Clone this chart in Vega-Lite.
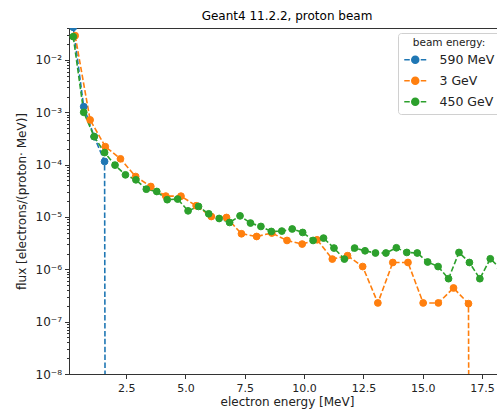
{
  "$schema": "https://vega.github.io/schema/vega-lite/v6.json",
  "width": 436,
  "height": 346,
  "autosize": "none",
  "padding": {"left": 69, "top": 28, "right": -8, "bottom": 38},
  "title": {"text": "Geant4 11.2.2, proton beam", "fontSize": 12, "fontWeight": "normal", "color": "black", "offset": 5},
  "data": {
    "values": [
      {"beam": "590 MeV", "E": 0.27, "flux": 0.042},
      {"beam": "590 MeV", "E": 0.71, "flux": 0.00128},
      {"beam": "590 MeV", "E": 1.15, "flux": 0.000343},
      {"beam": "590 MeV", "E": 1.59, "flux": 0.000115},
      {"beam": "590 MeV", "E": 2.03, "flux": 1e-100},

      {"beam": "3 GeV", "E": 0.35, "flux": 0.0291},
      {"beam": "3 GeV", "E": 0.98, "flux": 0.000716},
      {"beam": "3 GeV", "E": 1.62, "flux": 0.000221},
      {"beam": "3 GeV", "E": 2.26, "flux": 0.000129},
      {"beam": "3 GeV", "E": 2.90, "flux": 5.93e-5},
      {"beam": "3 GeV", "E": 3.54, "flux": 3.82e-5},
      {"beam": "3 GeV", "E": 4.17, "flux": 2.51e-5},
      {"beam": "3 GeV", "E": 4.81, "flux": 2.50e-5},
      {"beam": "3 GeV", "E": 5.45, "flux": 1.64e-5},
      {"beam": "3 GeV", "E": 6.09, "flux": 1.02e-5},
      {"beam": "3 GeV", "E": 6.73, "flux": 9.78e-6},
      {"beam": "3 GeV", "E": 7.36, "flux": 4.78e-6},
      {"beam": "3 GeV", "E": 8.00, "flux": 4.24e-6},
      {"beam": "3 GeV", "E": 8.64, "flux": 4.93e-6},
      {"beam": "3 GeV", "E": 9.28, "flux": 3.56e-6},
      {"beam": "3 GeV", "E": 9.92, "flux": 3.04e-6},
      {"beam": "3 GeV", "E": 10.55, "flux": 3.67e-6},
      {"beam": "3 GeV", "E": 11.19, "flux": 1.57e-6},
      {"beam": "3 GeV", "E": 11.83, "flux": 1.82e-6},
      {"beam": "3 GeV", "E": 12.47, "flux": 1.13e-6},
      {"beam": "3 GeV", "E": 13.11, "flux": 2.28e-7},
      {"beam": "3 GeV", "E": 13.74, "flux": 1.35e-6},
      {"beam": "3 GeV", "E": 14.38, "flux": 1.35e-6},
      {"beam": "3 GeV", "E": 15.02, "flux": 2.28e-7},
      {"beam": "3 GeV", "E": 15.66, "flux": 2.28e-7},
      {"beam": "3 GeV", "E": 16.30, "flux": 4.40e-7},
      {"beam": "3 GeV", "E": 16.93, "flux": 2.21e-7},
      {"beam": "3 GeV", "E": 17.57, "flux": 1e-100},

      {"beam": "450 GeV", "E": 0.27, "flux": 0.0279},
      {"beam": "450 GeV", "E": 0.71, "flux": 0.00100},
      {"beam": "450 GeV", "E": 1.15, "flux": 0.000343},
      {"beam": "450 GeV", "E": 1.59, "flux": 0.000170},
      {"beam": "450 GeV", "E": 2.03, "flux": 9.8e-5},
      {"beam": "450 GeV", "E": 2.47, "flux": 6.38e-5},
      {"beam": "450 GeV", "E": 2.91, "flux": 5.13e-5},
      {"beam": "450 GeV", "E": 3.35, "flux": 3.40e-5},
      {"beam": "450 GeV", "E": 3.79, "flux": 3.07e-5},
      {"beam": "450 GeV", "E": 4.23, "flux": 2.14e-5},
      {"beam": "450 GeV", "E": 4.67, "flux": 2.20e-5},
      {"beam": "450 GeV", "E": 5.11, "flux": 1.31e-5},
      {"beam": "450 GeV", "E": 5.55, "flux": 1.59e-5},
      {"beam": "450 GeV", "E": 5.98, "flux": 1.15e-5},
      {"beam": "450 GeV", "E": 6.42, "flux": 9.36e-6},
      {"beam": "450 GeV", "E": 6.86, "flux": 7.85e-6},
      {"beam": "450 GeV", "E": 7.30, "flux": 1.05e-5},
      {"beam": "450 GeV", "E": 7.74, "flux": 7.66e-6},
      {"beam": "450 GeV", "E": 8.18, "flux": 6.59e-6},
      {"beam": "450 GeV", "E": 8.62, "flux": 5.29e-6},
      {"beam": "450 GeV", "E": 9.06, "flux": 5.38e-6},
      {"beam": "450 GeV", "E": 9.50, "flux": 5.90e-6},
      {"beam": "450 GeV", "E": 9.94, "flux": 5.06e-6},
      {"beam": "450 GeV", "E": 10.38, "flux": 3.56e-6},
      {"beam": "450 GeV", "E": 10.82, "flux": 3.95e-6},
      {"beam": "450 GeV", "E": 11.26, "flux": 2.55e-6},
      {"beam": "450 GeV", "E": 11.70, "flux": 1.57e-6},
      {"beam": "450 GeV", "E": 12.13, "flux": 2.55e-6},
      {"beam": "450 GeV", "E": 12.57, "flux": 2.26e-6},
      {"beam": "450 GeV", "E": 13.01, "flux": 2.05e-6},
      {"beam": "450 GeV", "E": 13.45, "flux": 2.05e-6},
      {"beam": "450 GeV", "E": 13.89, "flux": 2.58e-6},
      {"beam": "450 GeV", "E": 14.33, "flux": 2.10e-6},
      {"beam": "450 GeV", "E": 14.77, "flux": 2.05e-6},
      {"beam": "450 GeV", "E": 15.21, "flux": 1.38e-6},
      {"beam": "450 GeV", "E": 15.65, "flux": 1.13e-6},
      {"beam": "450 GeV", "E": 16.09, "flux": 6.62e-7},
      {"beam": "450 GeV", "E": 16.53, "flux": 2.10e-6},
      {"beam": "450 GeV", "E": 16.97, "flux": 1.35e-6},
      {"beam": "450 GeV", "E": 17.41, "flux": 6.62e-7},
      {"beam": "450 GeV", "E": 17.85, "flux": 1.59e-6},
      {"beam": "450 GeV", "E": 18.29, "flux": 1.03e-6}
    ]
  },
  "encoding": {
    "x": {
      "field": "E", "type": "quantitative",
      "scale": {"domain": [0.09, 18.47], "nice": false, "zero": false},
      "axis": {
        "title": "electron energy [MeV]",
        "values": [2.5, 5, 7.5, 10, 12.5, 15, 17.5],
        "format": ".1f",
        "grid": false,
        "tickSize": 4.5,
        "labelFontSize": 11,
        "titleFontSize": 12,
        "labelPadding": 4,
        "titlePadding": 3
      }
    },
    "y": {
      "field": "flux", "type": "quantitative",
      "scale": {"type": "log", "domain": [1e-8, 0.0408], "nice": false},
      "axis": {
        "title": "flux [electrons/(proton· MeV)]",
        "values": [1e-8, 2e-8, 3e-8, 4e-8, 5e-8, 6e-8, 7e-8, 8e-8, 9e-8,
                   1e-7, 2e-7, 3e-7, 4e-7, 5e-7, 6e-7, 7e-7, 8e-7, 9e-7,
                   1e-6, 2e-6, 3e-6, 4e-6, 5e-6, 6e-6, 7e-6, 8e-6, 9e-6,
                   1e-5, 2e-5, 3e-5, 4e-5, 5e-5, 6e-5, 7e-5, 8e-5, 9e-5,
                   1e-4, 2e-4, 3e-4, 4e-4, 5e-4, 6e-4, 7e-4, 8e-4, 9e-4,
                   1e-3, 2e-3, 3e-3, 4e-3, 5e-3, 6e-3, 7e-3, 8e-3, 9e-3,
                   1e-2, 2e-2, 3e-2, 4e-2],
        "labelExpr": "abs(log(datum.value)/LN10 - round(log(datum.value)/LN10)) < 0.01 ? '10⁻' + substring('⁰¹²³⁴⁵⁶⁷⁸⁹', -round(log(datum.value)/LN10), 1 - round(log(datum.value)/LN10)) : ''",
        "tickSize": {"condition": {"test": "abs(log(datum.value)/LN10 - round(log(datum.value)/LN10)) < 0.01", "value": 4.5}, "value": 2.5},
        "grid": false,
        "labelFontSize": 12,
        "titleFontSize": 12,
        "labelPadding": 3,
        "titlePadding": 7
      }
    }
  },
  "layer": [
    {
      "mark": {"type": "line", "strokeDash": [5.5, 2.4], "strokeWidth": 1.6, "clip": true},
      "encoding": {
        "stroke": {
          "field": "beam", "type": "nominal",
          "scale": {"domain": ["590 MeV", "3 GeV", "450 GeV"], "range": ["#1f77b4", "#ff7f0e", "#2ca02c"]},
          "legend": {
            "title": "beam energy:",
            "orient": "top-right",
            "offset": 5
          }
        }
      }
    },
    {
      "mark": {"type": "point", "filled": true, "shape": "circle", "size": 46, "opacity": 1, "strokeWidth": 1, "clip": true},
      "encoding": {
        "fill": {
          "field": "beam", "type": "nominal",
          "scale": {"domain": ["590 MeV", "3 GeV", "450 GeV"], "range": ["#1f77b4", "#ff7f0e", "#2ca02c"]},
          "legend": {
            "title": "beam energy:",
            "orient": "top-right",
            "offset": 5
          }
        },
        "stroke": {
          "field": "beam", "type": "nominal",
          "scale": {"domain": ["590 MeV", "3 GeV", "450 GeV"], "range": ["#1f77b4", "#ff7f0e", "#2ca02c"]},
          "legend": {
            "title": "beam energy:",
            "orient": "top-right",
            "offset": 5
          }
        }
      }
    }
  ],
  "config": {
    "font": "DejaVu Sans",
    "view": {"stroke": "#333333", "strokeWidth": 1},
    "axis": {
      "domainColor": "#333333",
      "tickColor": "#333333",
      "labelColor": "#222222",
      "titleColor": "#222222",
      "titleFontWeight": "normal",
      "labelFont": "DejaVu Sans",
      "titleFont": "DejaVu Sans"
    },
    "legend": {
      "fillColor": "white",
      "strokeColor": "#d0d0d0",
      "cornerRadius": 3,
      "padding": 5,
      "titleFontSize": 10.5,
      "titleFontWeight": "normal",
      "titleColor": "#222222",
      "titleAnchor": "middle",
      "titlePadding": 5,
      "labelFontSize": 12.5,
      "labelColor": "#222222",
      "symbolType": "M-2.2,0L-1.1,0M1.1,0L2.2,0M-0.7,0A0.7,0.7,0,1,1,0.7,0A0.7,0.7,0,1,1,-0.7,0Z",
      "symbolSize": 100,
      "symbolStrokeWidth": 1.5,
      "symbolOpacity": 1,
      "symbolOffset": 6,
      "labelOffset": 18,
      "rowPadding": 7
    }
  }
}
